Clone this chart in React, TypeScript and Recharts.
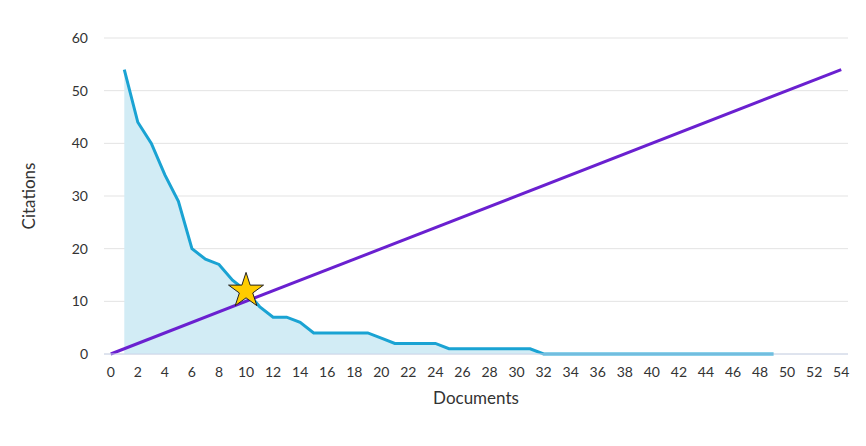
import React from 'react';
import { ComposedChart, Area, Line, Scatter, XAxis, YAxis, ZAxis, CartesianGrid } from 'recharts';

const documents = [
  1, 2, 3, 4, 5, 6, 7, 8, 9, 10, 11, 12, 13, 14, 15, 16, 17, 18, 19, 20, 21, 22, 23, 24, 25,
  26, 27, 28, 29, 30, 31, 32, 33, 34, 35, 36, 37, 38, 39, 40, 41, 42, 43, 44, 45, 46, 47, 48, 49,
];
const citations = [
  54, 44, 40, 34, 29, 20, 18, 17, 14, 12, 9, 7, 7, 6, 4, 4, 4, 4, 4, 3, 2, 2, 2, 2, 1,
  1, 1, 1, 1, 1, 1, 0, 0, 0, 0, 0, 0, 0, 0, 0, 0, 0, 0, 0, 0, 0, 0, 0, 0,
];
const diagonalX = [0, 54];
const diagonalY = [0, 54];
const hIndexPoint = { x: 10, y: 12 };
const xTicks = [0, 2, 4, 6, 8, 10, 12, 14, 16, 18, 20, 22, 24, 26, 28, 30, 32, 34, 36, 38, 40, 42, 44, 46, 48, 50, 52, 54];
const yTicks = [0, 10, 20, 30, 40, 50, 60];

const citationRows = documents.map((d, i) => ({ x: d, citations: citations[i] }));
const diagonalRows = diagonalX.map((x, i) => ({ x, y: diagonalY[i] }));
const starRows = [hIndexPoint];

const FONT = 'Lato, "Open Sans", sans-serif';

export default function App() {
  return (
    <ComposedChart
      width={858}
      height={438}
      margin={{ top: 30, right: 18, left: 0, bottom: 42 }}
      style={{ fontFamily: FONT }}
    >
      <CartesianGrid vertical={false} stroke="#e3e3e3" />
      <XAxis
        dataKey="x"
        type="number"
        domain={[-0.5, 54.5]}
        ticks={xTicks}
        interval={0}
        allowDataOverflow
        height={50}
        tickLine={false}
        tickSize={0}
        tickMargin={13}
        axisLine={{ stroke: '#ccd6eb' }}
        tick={{ fill: '#333', fontSize: 14, fontFamily: FONT }}
        label={{
          content: (props: any) => {
            const vb = props.viewBox;
            return (
              <text x={vb.x + vb.width / 2} y={vb.y + 43} textAnchor="middle" dominantBaseline="central" fill="#333" fontSize={17} fontFamily={FONT}>
                Documents
              </text>
            );
          },
        }}
      />
      <YAxis
        type="number"
        domain={[0, 60]}
        ticks={yTicks}
        width={96}
        axisLine={false}
        tickLine={false}
        tickSize={0}
        tickMargin={16}
        tick={{ fill: '#333', fontSize: 14, fontFamily: FONT }}
        label={{
          content: (props: any) => {
            const vb = props.viewBox;
            const cx = vb.x + 20;
            const cy = vb.y + vb.height / 2;
            return (
              <text x={cx} y={cy} transform={`rotate(-90, ${cx}, ${cy})`} textAnchor="middle" dominantBaseline="central" fill="#333" fontSize={17} fontFamily={FONT}>
                Citations
              </text>
            );
          },
        }}
      />
      <ZAxis range={[380, 380]} />
      <Area
        data={citationRows}
        dataKey="citations"
        type="linear"
        stroke="#1aa3d3"
        strokeWidth={3}
        fill="#d2ecf5"
        fillOpacity={1}
        dot={false}
        activeDot={false}
        isAnimationActive={false}
      />
      <Line
        data={diagonalRows}
        dataKey="y"
        type="linear"
        stroke="#6a20d0"
        strokeWidth={3}
        dot={false}
        activeDot={false}
        isAnimationActive={false}
      />
      <Scatter
        data={starRows}
        dataKey="y"
        shape="star"
        fill="#ffcc00"
        stroke="#222"
        strokeWidth={1}
        isAnimationActive={false}
      />
    </ComposedChart>
  );
}
